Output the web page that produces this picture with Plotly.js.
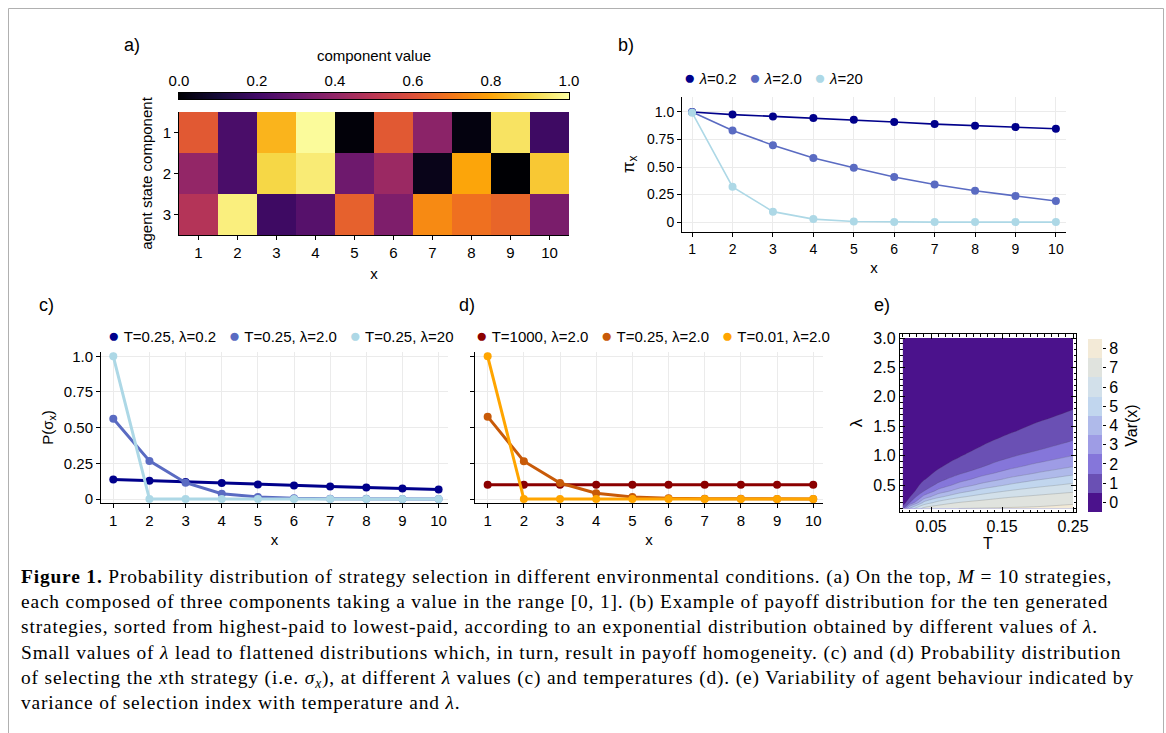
<!DOCTYPE html>
<html><head><meta charset="utf-8">
<script src="https://cdn.plot.ly/plotly-3.0.1.min.js"></script>
<style>html,body{margin:0;padding:0;background:#fff}#chart{width:1166px;height:733px}</style>
</head><body><div id="chart"></div>
<script>
// ---------------- data ----------------
const strategyIdx = [1, 2, 3, 4, 5, 6, 7, 8, 9, 10];
const componentIdx = [1, 2, 3];
const componentValues = [
  [0.62, 0.22, 0.83, 0.99, 0.01, 0.62, 0.38, 0.02, 0.93, 0.19],
  [0.40, 0.22, 0.90, 0.95, 0.31, 0.42, 0.04, 0.80, 0.00, 0.87],
  [0.48, 0.96, 0.19, 0.25, 0.64, 0.35, 0.74, 0.68, 0.65, 0.34]
];
const cbTickVals = [0, 0.2, 0.4, 0.6, 0.8, 1.0];
const cbTickText = ['0.0', '0.2', '0.4', '0.6', '0.8', '1.0'];

// panel b: payoff pi_x
const payoffLam02 = [1.0, 0.976, 0.960, 0.945, 0.930, 0.909, 0.890, 0.875, 0.863, 0.848];
const payoffLam2 = [1.0, 0.832, 0.698, 0.582, 0.494, 0.409, 0.341, 0.284, 0.238, 0.192];
const payoffLam20 = [0.994, 0.32, 0.095, 0.027, 0.006, 0.001, 0.0, 0.0, 0.0, 0.0];
const bNames = ['<i>λ</i>=0.2', '<i>λ</i>=2.0', '<i>λ</i>=20'];
const bColors = ['#00008B', '#5A6BC2', '#ADD8E6'];

// panel c: P(sigma_x), T=0.25
const probLam02 = [0.137, 0.128, 0.119, 0.112, 0.102, 0.095, 0.088, 0.081, 0.074, 0.067];
const probLam2 = [0.563, 0.267, 0.114, 0.037, 0.014, 0.005, 0.002, 0.001, 0.0, 0.0];
const probLam20 = [1.0, 0.0, 0.0, 0.0, 0.0, 0.0, 0.0, 0.0, 0.0, 0.0];
const cNames = ['T=0.25, λ=0.2', 'T=0.25, λ=2.0', 'T=0.25, λ=20'];
const cColors = ['#00008B', '#5A6BC2', '#ADD8E6'];

// panel d: P(sigma_x), lambda=2.0
const probT1000 = [0.1, 0.1, 0.1, 0.1, 0.1, 0.1, 0.1, 0.1, 0.1, 0.1];
const probT025 = [0.577, 0.265, 0.112, 0.040, 0.014, 0.005, 0.002, 0.001, 0.0, 0.0];
const probT001 = [1.0, 0.0, 0.0, 0.0, 0.0, 0.0, 0.0, 0.0, 0.0, 0.0];
const dNames = ['T=1000, λ=2.0', 'T=0.25, λ=2.0', 'T=0.01, λ=2.0'];
const dColors = ['#8B0000', '#C85A08', '#FFA500'];

const probTicks = [0, 0.25, 0.5, 0.75, 1.0];
const probTickText = ['0', '0.25', '0.50', '0.75', '1.0'];

// panel e: Var(x) over (T, lambda)
const tempT = [0.01, 0.02, 0.04, 0.06, 0.09, 0.12, 0.16, 0.20, 0.25];
const lambdaL = [0.1, 0.2, 0.3, 0.4, 0.5, 0.6, 0.7, 0.8, 0.9, 1.0, 1.1, 1.2, 1.4, 1.6, 1.8, 2.0, 2.4, 3.0];
const varX = [
  [1.55, 5.32, 7.36, 7.76, 8.01, 8.05, 8.08, 8.10, 8.12],
  [0.27, 1.96, 5.32, 6.39, 7.06, 7.36, 7.63, 7.79, 7.95],
  [0.05, 0.91, 3.33, 4.74, 5.83, 6.43, 6.92, 7.19, 7.42],
  [0.01, 0.40, 1.96, 3.31, 4.51, 5.35, 6.05, 6.49, 6.87],
  [0.00, 0.21, 1.37, 2.23, 3.41, 4.24, 5.11, 5.70, 6.20],
  [0.00, 0.087, 0.91, 1.66, 2.53, 3.36, 4.19, 4.89, 5.50],
  [0.00, 0.054, 0.65, 1.21, 1.88, 2.62, 3.45, 4.07, 4.79],
  [0.00, 0.02, 0.40, 0.90, 1.54, 1.98, 2.80, 3.45, 4.07],
  [0.00, 0.01, 0.31, 0.71, 1.19, 1.68, 2.23, 2.87, 3.53],
  [0.00, 0.01, 0.21, 0.52, 0.93, 1.39, 1.85, 2.38, 3.00],
  [0.00, 0.00, 0.12, 0.37, 0.78, 1.10, 1.61, 1.95, 2.57],
  [0.00, 0.00, 0.087, 0.30, 0.63, 0.92, 1.36, 1.73, 2.13],
  [0.00, 0.00, 0.054, 0.16, 0.375, 0.66, 0.94, 1.30, 1.68],
  [0.00, 0.00, 0.02, 0.086, 0.26, 0.41, 0.73, 0.94, 1.30],
  [0.00, 0.00, 0.01, 0.061, 0.15, 0.31, 0.52, 0.76, 0.97],
  [0.00, 0.00, 0.01, 0.036, 0.09, 0.22, 0.37, 0.57, 0.81],
  [0.00, 0.00, 0.00, 0.01, 0.05, 0.088, 0.21, 0.33, 0.48],
  [0.00, 0.00, 0.00, 0.01, 0.01, 0.039, 0.078, 0.12, 0.25]
];
const varLevels = [0, 1, 2, 3, 4, 5, 6, 7, 8];
const varColors = ['#4B128C', '#6A50B4', '#8576DA', '#9E9CE5', '#AFBAEA', '#C1D6EE', '#D2E0EA', '#E0E3DE', '#F3EAD7'];
const eXTicks = [0.05, 0.15, 0.25];
const eXTickText = ['0.05', '0.15', '0.25'];
const eYTicks = [0.5, 1.0, 1.5, 2.0, 2.5, 3.0];
const eYTickText = ['0.5', '1.0', '1.5', '2.0', '2.5', '3.0'];

const captionLines = [
  '<b>Figure 1.</b> Probability distribution of strategy selection in different environmental conditions. (a) On the top, <i>M</i> = 10 strategies,',
  'each composed of three components taking a value in the range [0, 1]. (b) Example of payoff distribution for the ten generated',
  'strategies, sorted from highest-paid to lowest-paid, according to an exponential distribution obtained by different values of <i>λ</i>.',
  'Small values of <i>λ</i> lead to flattened distributions which, in turn, result in payoff homogeneity. (c) and (d) Probability distribution',
  'of selecting the <i>x</i>th strategy (i.e. <i>σ<sub>x</sub></i>), at different <i>λ</i> values (c) and temperatures (d). (e) Variability of agent behaviour indicated by',
  'variance of selection index with temperature and <i>λ</i>.'
];

// ---------------- helpers ----------------
const W = 1166, H = 733;
const px = v => v / W;
const py = v => 1 - v / H;
const SANS = 'Liberation Sans, Arial, sans-serif';
const SERIF = 'Liberation Serif, Times New Roman, serif';

const inferno = [
  [0.0, '#000004'], [0.1, '#160b39'], [0.2, '#420a68'], [0.3, '#6a176e'],
  [0.4, '#932667'], [0.5, '#bc3754'], [0.6, '#dd513a'], [0.7, '#f37819'],
  [0.8, '#fca50a'], [0.9, '#f6d746'], [1.0, '#fcffa4']
];

function baseAxis(extra) {
  return Object.assign({
    showline: true, linecolor: '#000', linewidth: 1,
    ticks: 'outside', ticklen: 4, tickcolor: '#000', tickwidth: 1,
    zeroline: false, showgrid: false,
    tickfont: {family: SANS, size: 14, color: '#000'}
  }, extra);
}

function lineTrace(y, color, ax, width, msize) {
  return {
    type: 'scatter', mode: 'lines+markers', x: strategyIdx, y: y,
    xaxis: ax[0], yaxis: ax[1], showlegend: false, hoverinfo: 'skip',
    line: {color: color, width: width},
    marker: {color: color, size: msize}
  };
}

function legendText(names, colors) {
  return names.map((n, i) =>
    '<span style="color:' + colors[i] + ';font-size:19px">●</span>\u00A0' + n
  ).join('\u00A0\u00A0\u00A0');
}

// ---------------- traces ----------------
const traces = [];

// panel a heatmap
traces.push({
  type: 'heatmap', x: strategyIdx, y: componentIdx, z: componentValues,
  xaxis: 'x', yaxis: 'y', zmin: 0, zmax: 1, colorscale: inferno, hoverinfo: 'skip',
  showscale: false
});
// panel a colour bar (gradient strip on its own axis)
traces.push({
  type: 'heatmap', x: cbTickVals, y: [0], z: [cbTickVals], zsmooth: 'best',
  xaxis: 'x7', yaxis: 'y7', zmin: 0, zmax: 1, colorscale: inferno,
  showscale: false, hoverinfo: 'skip'
});

traces.push(lineTrace(payoffLam02, bColors[0], ['x2', 'y2'], 1.6, 8));
traces.push(lineTrace(payoffLam2, bColors[1], ['x2', 'y2'], 1.6, 8));
traces.push(lineTrace(payoffLam20, bColors[2], ['x2', 'y2'], 1.6, 8));

traces.push(lineTrace(probLam02, cColors[0], ['x3', 'y3'], 3, 8));
traces.push(lineTrace(probLam2, cColors[1], ['x3', 'y3'], 3, 8));
traces.push(lineTrace(probLam20, cColors[2], ['x3', 'y3'], 3, 8));

traces.push(lineTrace(probT1000, dColors[0], ['x4', 'y4'], 3, 8));
traces.push(lineTrace(probT025, dColors[1], ['x4', 'y4'], 3, 8));
traces.push(lineTrace(probT001, dColors[2], ['x4', 'y4'], 3, 8));

const bandScale = [];
for (let k = 0; k < 8; k++) {
  bandScale.push([k / 8, varColors[k]]);
  bandScale.push([(k + 1) / 8 - 1e-4, varColors[k]]);
}
bandScale.push([1, varColors[8]]);

traces.push({
  type: 'contour', x: tempT, y: lambdaL, z: varX, xaxis: 'x5', yaxis: 'y5',
  autocontour: false, contours: {start: 1, end: 8, size: 1, coloring: 'fill'},
  colorscale: bandScale, showscale: false, hoverinfo: 'skip',
  line: {width: 0.6, color: 'rgba(80,80,80,0.35)', smoothing: 1}
});

traces.push({
  type: 'heatmap', x: [0], y: varLevels, z: varLevels.map(v => [v]),
  xaxis: 'x6', yaxis: 'y6', zmin: 0, zmax: 8, showscale: false, hoverinfo: 'skip',
  colorscale: varLevels.map((v, i) => [i / (varLevels.length - 1), varColors[i]])
});

// ---------------- layout ----------------
const gridC = '#ebebeb';
const layout = {
  width: W, height: H, margin: {l: 0, r: 0, t: 0, b: 0},
  paper_bgcolor: '#fff', plot_bgcolor: 'rgba(0,0,0,0)',
  font: {family: SANS, size: 14, color: '#000'},
  showlegend: false, hovermode: false,

  // panel a
  xaxis: baseAxis({domain: [px(179), px(569)], anchor: 'y', range: [0.5, 10.5],
    tickvals: strategyIdx, tickfont: {family: SANS, size: 15},
    title: {text: 'x', font: {family: SANS, size: 15}, standoff: 8}}),
  yaxis: baseAxis({domain: [py(235), py(112)], anchor: 'x', range: [3.5, 0.5],
    tickvals: componentIdx, tickfont: {family: SANS, size: 15},
    title: {text: 'agent state component', font: {family: SANS, size: 15}, standoff: 6}}),
  xaxis7: {domain: [px(179), px(569)], anchor: 'y7', side: 'top', range: [0, 1],
    tickvals: cbTickVals, ticktext: cbTickText, showline: true, mirror: true,
    linecolor: '#000', linewidth: 1, showgrid: false,
    zeroline: false, ticks: '', tickfont: {family: SANS, size: 15},
    title: {text: 'component value', font: {family: SANS, size: 15}, standoff: 6}},
  yaxis7: {domain: [py(99), py(93)], anchor: 'x7', range: [-0.5, 0.5],
    showline: true, mirror: true, linecolor: '#000', linewidth: 1,
    showticklabels: false, ticks: '', showgrid: false, zeroline: false},

  // panel b
  xaxis2: baseAxis({domain: [px(682), px(1066)], anchor: 'y2', range: [0.75, 10.25],
    tickvals: strategyIdx, showgrid: true, gridcolor: gridC,
    title: {text: 'x', font: {family: SANS, size: 15}, standoff: 6}}),
  yaxis2: baseAxis({domain: [py(232), py(97)], anchor: 'x2', range: [-0.09, 1.136],
    tickvals: probTicks, ticktext: probTickText, showgrid: true, gridcolor: gridC,
    title: {text: 'π<sub>x</sub>', font: {family: SANS, size: 17}, standoff: 8}}),

  // panel c
  xaxis3: baseAxis({domain: [px(101), px(448)], anchor: 'y3', range: [0.66, 10.26],
    tickvals: strategyIdx, showgrid: true, gridcolor: gridC, tickfont: {family: SANS, size: 15},
    title: {text: 'x', font: {family: SANS, size: 15}, standoff: 6}}),
  yaxis3: baseAxis({domain: [py(503), py(352)], anchor: 'x3', range: [-0.028, 1.03],
    tickvals: probTicks, ticktext: probTickText, showgrid: true, gridcolor: gridC,
    tickfont: {family: SANS, size: 15},
    title: {text: 'P(σ<sub>x</sub>)', font: {family: SANS, size: 15}, standoff: 6}}),

  // panel d
  xaxis4: baseAxis({domain: [px(475), px(823)], anchor: 'y4', range: [0.65, 10.27],
    tickvals: strategyIdx, showgrid: true, gridcolor: gridC, tickfont: {family: SANS, size: 15},
    title: {text: 'x', font: {family: SANS, size: 15}, standoff: 6}}),
  yaxis4: baseAxis({domain: [py(503), py(352)], anchor: 'x4', range: [-0.028, 1.03],
    tickvals: probTicks, showticklabels: false, showgrid: true, gridcolor: gridC}),

  // panel e
  xaxis5: baseAxis({domain: [px(900), px(1076)], anchor: 'y5', range: [0.0063, 0.2542],
    tickvals: eXTicks, ticktext: eXTickText, ticks: 'inside', ticklen: 5, mirror: 'ticks',
    linewidth: 1.2, tickfont: {family: SANS, size: 16},
    minor: {tickmode: 'linear', tick0: 0, dtick: 0.01, ticks: 'inside', ticklen: 2.5, tickcolor: '#000', showgrid: false},
    title: {text: 'T', font: {family: SANS, size: 16}, standoff: 2}}),
  yaxis5: baseAxis({domain: [py(512), py(334)], anchor: 'x5', range: [0.041, 3.068],
    tickvals: eYTicks, ticktext: eYTickText, ticks: 'inside', ticklen: 5, mirror: 'ticks',
    linewidth: 1.2, tickfont: {family: SANS, size: 16},
    minor: {tickmode: 'linear', tick0: 0, dtick: 0.1, ticks: 'inside', ticklen: 2.5, tickcolor: '#000', showgrid: false},
    title: {text: 'λ', font: {family: SANS, size: 17}, standoff: 6}}),

  // panel e colour bar
  xaxis6: {domain: [px(1088), px(1102)], anchor: 'y6', range: [-0.5, 0.5], visible: false},
  yaxis6: {domain: [py(512), py(339)], anchor: 'x6', side: 'right', range: [-0.5, 8.5],
    tickvals: varLevels, ticks: 'outside', ticklen: 3, tickcolor: '#000', showline: false,
    showgrid: false, zeroline: false, tickfont: {family: SANS, size: 16},
    title: {text: 'Var(x)', font: {family: SANS, size: 16}, standoff: 8}},

  shapes: [{
    type: 'rect', xref: 'paper', yref: 'paper',
    x0: px(8.5), x1: px(1163.5), y0: -0.1, y1: py(8.5),
    line: {color: '#b0b0b0', width: 1}, fillcolor: 'rgba(0,0,0,0)', layer: 'below'
  }],

  annotations: []
};

const ann = layout.annotations;
function label(text, x, y, size, family, yanchor) {
  ann.push({
    text: text, xref: 'paper', yref: 'paper', x: px(x), y: py(y),
    xanchor: 'left', yanchor: yanchor || 'middle', align: 'left', showarrow: false,
    font: {family: family || SANS, size: size, color: '#000'}
  });
}
label('a)', 122, 45, 18);
label('b)', 616, 45, 18);
label('c)', 37, 305, 18);
label('d)', 457, 305, 18);
label('e)', 872, 305, 18);

label(legendText(bNames, bColors), 682, 78, 15);
label(legendText(cNames, cColors), 106, 335, 15);
label(legendText(dNames, dColors), 474, 335, 15);

label('<span style="letter-spacing:0.85px">' + captionLines.join('<br>') + '</span>',
      19, 564, 19.4, SERIF, 'top');

Plotly.newPlot('chart', traces, layout, {staticPlot: true, displayModeBar: false});
</script></body></html>
